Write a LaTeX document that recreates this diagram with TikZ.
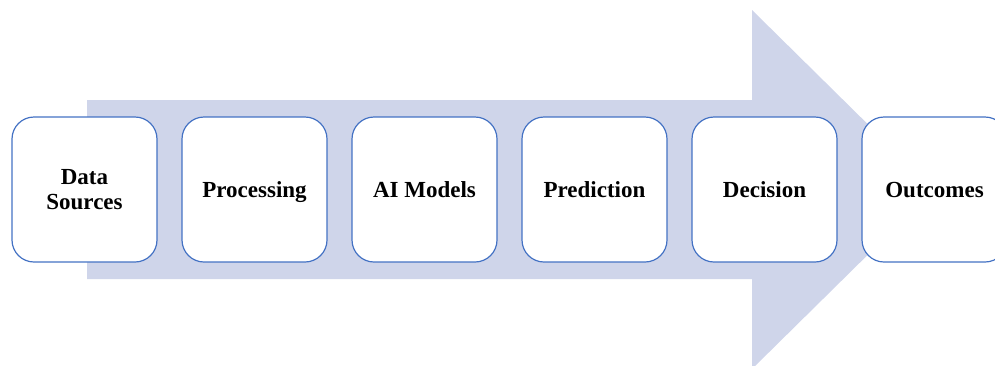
\documentclass[tikz,border=0pt]{standalone}
\usepackage{fontspec}
\setmainfont{Liberation Serif}
\definecolor{arrowfill}{HTML}{CFD5EA}
\definecolor{boxline}{HTML}{4472C4}
\tikzset{
  stagebox/.style={draw=boxline, line width=1.2pt, fill=white, rounded corners=22pt,
    minimum width=145pt, minimum height=145pt, inner sep=0pt, align=center,
    font=\fontsize{23}{25}\selectfont\bfseries},
  oneline/.style={text height=15.6pt, text depth=0pt}
}
\begin{document}
\begin{tikzpicture}[x=1pt,y=-1pt]
\useasboundingbox (0,0) rectangle (995,365);
\clip (0,0) rectangle (995,365);
\fill[arrowfill] (87,100) -- (752,100) -- (752,10) -- (934,189.5) -- (752,369) -- (752,279) -- (87,279) -- cycle;
\node[stagebox] (n1) at (84.5,189.5) {Data\\Sources};
\node[stagebox, oneline] (n2) at (254.5,189.5) {Processing};
\node[stagebox, oneline] (n3) at (424.5,189.5) {AI Models};
\node[stagebox, oneline] (n4) at (594.5,189.5) {Prediction};
\node[stagebox, oneline] (n5) at (764.5,189.5) {Decision};
\node[stagebox, oneline] (n6) at (934.5,189.5) {Outcomes};
\end{tikzpicture}
\end{document}
